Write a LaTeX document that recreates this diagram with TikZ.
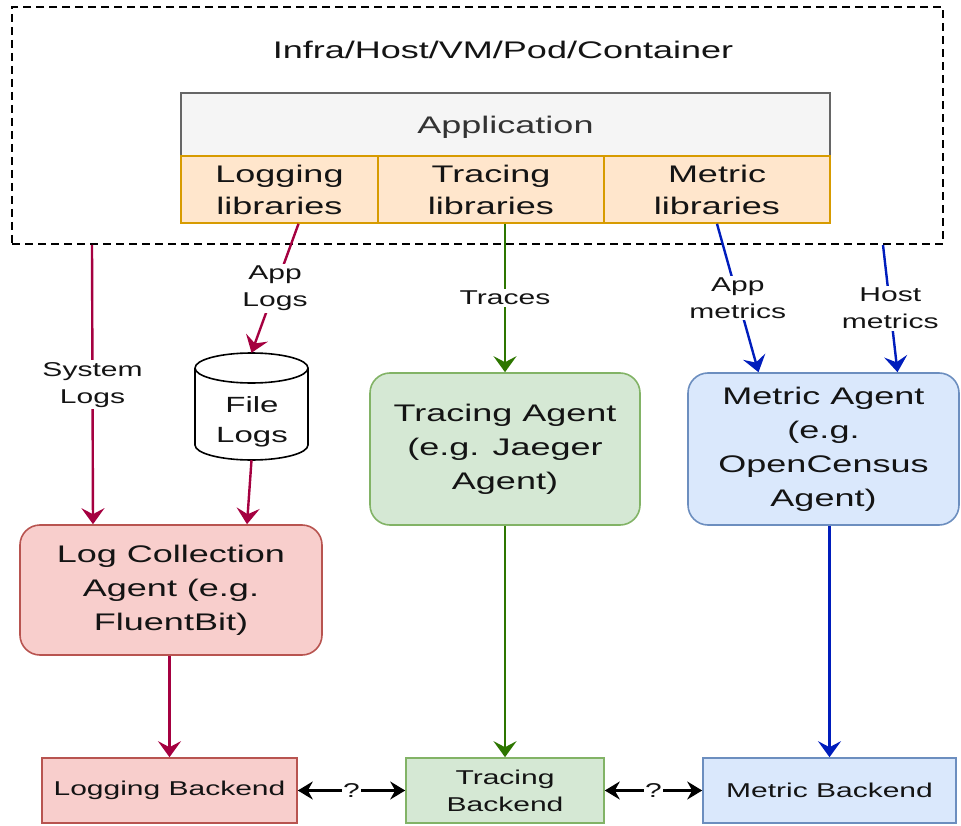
\documentclass[tikz,border=0pt]{standalone}
\usepackage{fontspec}
\setmainfont{Liberation Sans}[FakeStretch=1.5]
\usetikzlibrary{arrows.meta,calc}
\definecolor{redfill}{HTML}{F8CECC}
\definecolor{redline}{HTML}{B85450}
\definecolor{greenfill}{HTML}{D5E8D4}
\definecolor{greenline}{HTML}{82B366}
\definecolor{bluefill}{HTML}{DAE8FC}
\definecolor{blueline}{HTML}{6C8EBF}
\definecolor{orangefill}{HTML}{FFE6CC}
\definecolor{orangeline}{HTML}{D79B00}
\definecolor{grayfill}{HTML}{F5F5F5}
\definecolor{grayline}{HTML}{666666}
\definecolor{apptext}{HTML}{333333}
\definecolor{logarrow}{HTML}{A50040}
\definecolor{tracearrow}{HTML}{2D7600}
\definecolor{metricarrow}{HTML}{001DBC}
\definecolor{txt}{HTML}{141414}
\tikzset{
  bigtext/.style={font=\fontsize{24}{34}\selectfont, text=txt, align=center},
  smalltext/.style={font=\fontsize{20}{27}\selectfont, text=txt, align=center},
  box/.style={draw, line width=1.6pt, inner sep=0pt},
  agentbox/.style={box, rounded corners=20pt, bigtext},
  backbox/.style={box, smalltext},
  libbox/.style={box, fill=orangefill, draw=orangeline, font=\fontsize{24}{32}\selectfont, text=txt, align=center, minimum height=67pt},
  tip/.style={-{Stealth[length=16pt,width=23pt,inset=6pt]}},
  conn/.style={line width=2.4pt, tip},
  elabel/.style={smalltext, fill=white, inner sep=2pt, midway},
  dblarrow/.style={line width=2.4pt, {Stealth[length=15pt,width=18pt,inset=5pt]}-{Stealth[length=15pt,width=18pt,inset=5pt]}}
}
\begin{document}
\begin{tikzpicture}[x=1pt,y=-1pt]
\useasboundingbox (0,0) rectangle (961,826);
% container
\node[draw, dash pattern=on 8pt off 5pt, line width=2pt, minimum width=931pt, minimum height=237pt, inner sep=0pt] (host) at (477.5,125.5) {};
\node[bigtext] (hosttitle) at (503,50) {Infra/Host/VM/Pod/Container};
% application
\node[box, fill=grayfill, draw=grayline, minimum width=649pt, minimum height=63pt, font=\fontsize{24}{32}\selectfont, text=apptext] (app) at (505.5,124.5) {};
\node[font=\fontsize{24}{32}\selectfont, text=apptext] (apptitle) at (505.5,127) {Application};
\node[libbox, minimum width=197pt] (loglib) at (279.5,189.5) {Logging\\libraries};
\node[libbox, minimum width=226pt] (tracelib) at (491,189.5) {Tracing\\libraries};
\node[libbox, minimum width=226pt] (metriclib) at (717,189.5) {Metric\\libraries};
% file logs cylinder
\node[minimum width=113pt, minimum height=107pt, inner sep=0pt] (filelogs) at (251.5,406.5) {};
\draw[line width=1.6pt, fill=white] (195,368) -- (195,445) arc[start angle=180, end angle=0, x radius=56.5, y radius=15] -- (308,368) arc[start angle=0, end angle=-180, x radius=56.5, y radius=15];
\draw[line width=1.6pt] (195,368) arc[start angle=180, end angle=0, x radius=56.5, y radius=15];
\node[font=\fontsize{22}{30}\selectfont, text=txt, align=center] (filelogstext) at (252,422) {File\\Logs};
% agents
\node[agentbox, fill=redfill, draw=redline, minimum width=302pt, minimum height=130pt] (logagent) at (171,590) {Log Collection\\Agent (e.g.\\FluentBit)};
\node[agentbox, fill=greenfill, draw=greenline, minimum width=270pt, minimum height=152pt] (tagent) at (505,449) {Tracing Agent\\(e.g. Jaeger\\Agent)};
\node[agentbox, fill=bluefill, draw=blueline, minimum width=271pt, minimum height=152pt] (magent) at (823.5,449) {Metric Agent\\(e.g.\\OpenCensus\\Agent)};
% backends
\node[backbox, fill=redfill, draw=redline, minimum width=255pt, minimum height=65pt] (logback) at (169.5,790.5) {Logging Backend};
\node[backbox, fill=greenfill, draw=greenline, minimum width=198pt, minimum height=65pt] (tback) at (505,790.5) {Tracing\\Backend};
\node[backbox, fill=bluefill, draw=blueline, minimum width=253pt, minimum height=65pt] (mback) at (829.5,790.5) {Metric Backend};
% log connectors
\draw[conn, logarrow] ($(host.south west)+(81,0)$) -- node[elabel] {System\\Logs} ($(logagent.north)+(-78,0)$);
\draw[conn, logarrow] ($(loglib.south)+(19,0)$) -- node[elabel] {App\\Logs} (filelogs.north);
\draw[conn, logarrow] (filelogs.south) -- ($(logagent.north)+(76,0)$);
\draw[conn, logarrow] (logback.north |- logagent.south) -- (logback.north);
% trace connectors
\draw[conn, tracearrow] (tagent.north |- tracelib.south) -- node[elabel] {Traces} (tagent.north);
\draw[conn, tracearrow] (tagent.south) -- (tback.north);
% metric connectors
\draw[conn, metricarrow] (metriclib.south) -- node[elabel] {App\\metrics} ($(magent.north)+(-65,0)$);
\draw[conn, metricarrow] ($(host.south east)+(-61,0)$) -- node[elabel] {Host\\metrics} ($(magent.north)+(74,0)$);
\draw[conn, metricarrow] (mback.north |- magent.south) -- (mback.north);
% backend links
\draw[dblarrow] (logback.east) -- node[smalltext, fill=white, inner sep=1pt] {?} (tback.west);
\draw[dblarrow] (tback.east) -- node[smalltext, fill=white, inner sep=1pt] {?} (mback.west);
\end{tikzpicture}
\end{document}
